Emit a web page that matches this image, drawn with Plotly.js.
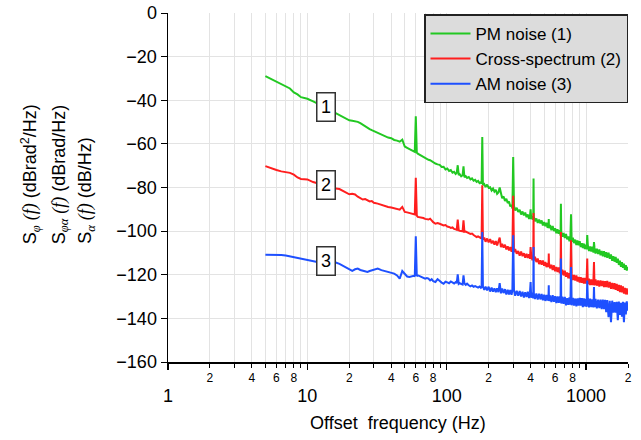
<!DOCTYPE html>
<html>
<head>
<meta charset="utf-8">
<script src="https://cdn.plot.ly/plotly-3.0.1.min.js"></script>
<style>html,body{margin:0;padding:0;background:#fff;}#chart{width:641px;height:440px;}</style>
</head>
<body>
<div id="chart"></div>
<script>
// Offset frequency (Hz)
const freq = [
  5, 5.5, 6, 6.5, 7, 7.5, 8, 8.5, 9, 9.5,
  10, 11, 12, 13, 14, 15, 16, 17, 18, 19,
  20, 21, 22, 23, 24, 25, 26, 27, 28, 29,
  30, 32, 34, 36, 38, 40, 42, 44, 46, 48,
  50, 52, 54, 56, 58, 59, 60, 61, 62, 64,
  66, 68, 70, 72, 74, 76, 78, 80, 83, 86,
  89, 92, 95, 98, 101, 104, 107, 110, 113, 116,
  118, 120, 122, 124, 127, 130, 132, 134, 137, 140,
  144, 148, 152, 156, 160, 164, 168, 172, 176, 178,
  180, 182, 186, 190, 195, 200, 205, 210, 215, 220,
  225, 230, 235, 240, 245, 250, 256, 262, 268, 274,
  280, 286, 292, 296, 300, 304, 310, 318, 326, 334,
  342, 350, 358, 366, 374, 382, 390, 396, 400, 404,
  412, 418, 420, 422, 430, 440, 450, 460, 470, 480,
  490, 500, 510, 520, 530, 538, 540, 542, 552, 564,
  576, 588, 600, 612, 624, 636, 648, 656, 660, 664,
  676, 690, 704, 718, 732, 746, 760, 772, 780, 788,
  804, 820, 836, 852, 868, 884, 900, 916, 932, 948,
  964, 980, 996, 1010, 1020, 1030, 1050, 1070, 1090, 1110,
  1130, 1140, 1150, 1170, 1195, 1220, 1245, 1270, 1295, 1320,
  1345, 1370, 1395, 1420, 1450, 1480, 1510, 1540, 1570, 1600,
  1630, 1660, 1690, 1720, 1750, 1780, 1810, 1840, 1870, 1900,
  1930, 1960, 1990
];

// PM noise (1), dBrad^2/Hz
const pmNoise = [
  -28.9, -30.2, -31.4, -32.6, -33.7, -34.6, -36.4, -37.3, -38.6, -39.0,
  -39.3, -40.5, -41.6, -42.8, -44.0, -45.0, -45.9, -46.5, -47.4, -48.4,
  -49.2, -49.4, -49.5, -49.9, -50.5, -51.3, -52.0, -52.7, -53.2, -53.7,
  -54.1, -55.2, -55.8, -56.3, -57.1, -57.4, -58.2, -58.5, -59.0, -58.1,
  -61.2, -61.8, -62.4, -62.9, -63.4, -63.7, -47.4, -64.0, -64.5, -65.0,
  -65.6, -66.1, -66.8, -67.0, -67.3, -67.5, -68.0, -68.6, -69.0, -69.4,
  -69.6, -70.6, -70.5, -71.7, -71.3, -72.4, -72.0, -73.2, -72.8, -73.8,
  -73.3, -69.8, -74.3, -73.9, -74.9, -74.4, -70.3, -75.3, -74.8, -75.6,
  -75.2, -76.3, -75.8, -76.9, -76.5, -77.4, -77.0, -78.0, -77.6, -78.3,
  -56.9, -78.9, -78.4, -79.8, -78.7, -80.1, -79.9, -81.4, -80.5, -81.9,
  -81.1, -82.9, -82.3, -80.0, -82.7, -84.9, -84.1, -86.2, -85.2, -87.1,
  -86.4, -88.7, -87.9, -89.6, -66.0, -88.5, -90.6, -89.3, -91.2, -90.2,
  -92.4, -91.0, -92.8, -91.5, -93.6, -92.4, -94.4, -92.9, -90.0, -94.5,
  -93.2, -94.8, -75.9, -93.4, -95.5, -94.2, -96.2, -94.7, -96.5, -95.1,
  -97.4, -95.8, -97.7, -96.2, -98.5, -97.2, -94.5, -98.7, -97.2, -99.6,
  -97.7, -100.0, -98.7, -101.0, -99.1, -101.2, -99.6, -102.0, -87.4, -100.3,
  -102.6, -100.9, -103.1, -101.3, -103.8, -102.4, -104.7, -102.8, -92.3, -104.9,
  -103.0, -105.5, -103.9, -106.4, -104.3, -106.5, -104.6, -107.3, -105.5, -107.8,
  -105.7, -108.2, -106.2, -108.3, -101.8, -106.4, -109.1, -107.0, -109.3, -107.1,
  -109.8, -105.0, -107.7, -110.3, -108.1, -110.5, -108.4, -111.1, -109.1, -111.5,
  -109.2, -111.9, -109.7, -112.2, -109.9, -112.7, -110.7, -113.6, -111.5, -114.0,
  -111.8, -114.5, -112.6, -115.5, -113.5, -116.4, -114.2, -116.8, -114.9, -117.7,
  -115.6, -118.1, -116.3
];

// Cross-spectrum (2), dBrad/Hz
const crossSpectrum = [
  -70.2, -71.3, -72.0, -72.6, -73.0, -73.3, -74.1, -75.4, -76.1, -76.2,
  -76.3, -77.5, -78.2, -78.9, -79.5, -80.1, -80.5, -80.7, -81.6, -82.6,
  -83.1, -82.9, -83.2, -84.2, -85.0, -85.5, -85.3, -86.0, -86.4, -86.2,
  -87.0, -87.4, -88.0, -88.3, -88.9, -89.2, -89.5, -89.9, -90.2, -88.9,
  -91.2, -91.4, -91.7, -92.0, -92.2, -92.4, -75.5, -92.9, -93.5, -93.6,
  -93.8, -94.0, -94.4, -94.6, -94.7, -94.3, -95.2, -95.9, -96.6, -96.3,
  -96.6, -97.0, -97.4, -97.2, -97.9, -98.1, -98.5, -98.3, -99.0, -99.2,
  -99.4, -94.7, -99.6, -99.8, -100.0, -100.1, -95.0, -100.3, -100.2, -100.4,
  -100.9, -101.3, -101.1, -101.8, -102.2, -102.7, -102.4, -103.0, -103.2, -103.1,
  -79.0, -104.0, -103.0, -104.9, -103.4, -105.1, -103.7, -105.6, -104.4, -106.2,
  -104.6, -106.6, -105.2, -103.0, -107.3, -105.8, -107.6, -106.2, -108.4, -107.0,
  -108.8, -107.3, -109.4, -107.9, -83.8, -109.7, -108.2, -110.4, -109.1, -111.3,
  -109.4, -111.5, -110.1, -112.2, -110.4, -112.3, -110.6, -112.7, -107.3, -111.2,
  -113.3, -111.6, -91.7, -113.4, -111.8, -114.2, -112.6, -115.1, -113.4, -115.4,
  -113.5, -115.9, -114.2, -116.5, -114.6, -116.5, -110.3, -114.6, -117.1, -115.4,
  -117.8, -115.7, -118.4, -116.4, -118.8, -116.7, -119.3, -117.3, -100.4, -119.9,
  -117.7, -120.3, -118.2, -120.9, -119.0, -121.6, -119.3, -121.8, -104.2, -119.6,
  -122.4, -120.1, -122.6, -120.3, -123.1, -121.0, -123.6, -121.1, -123.7, -121.5,
  -124.0, -121.4, -124.1, -121.9, -112.6, -124.4, -121.8, -124.7, -122.1, -124.7,
  -122.2, -114.2, -124.9, -122.1, -125.0, -122.6, -125.4, -122.6, -125.2, -122.8,
  -125.6, -122.9, -125.7, -122.8, -125.9, -123.3, -126.5, -123.7, -126.6, -123.9,
  -126.9, -124.2, -127.4, -124.7, -127.9, -124.9, -128.1, -125.3, -128.6, -126.0,
  -129.0, -126.3, -129.1
];

// AM noise (3), dB/Hz
const amNoise = [
  -110.8, -110.8, -110.9, -111.0, -111.2, -111.6, -112.0, -112.5, -112.9, -113.2,
  -113.5, -114.0, -114.3, -114.3, -114.3, -114.4, -114.4, -115.0, -115.9, -117.0,
  -117.8, -118.2, -117.5, -117.2, -117.8, -118.1, -118.4, -118.7, -118.3, -118.0,
  -117.6, -117.2, -117.9, -118.4, -118.6, -119.0, -119.5, -120.3, -121.8, -118.3,
  -119.5, -120.8, -121.0, -120.7, -120.5, -120.8, -102.4, -120.6, -120.3, -120.6,
  -121.0, -121.4, -121.8, -121.5, -121.8, -122.6, -122.0, -122.9, -123.3, -122.0,
  -123.0, -123.6, -124.1, -123.2, -123.5, -123.9, -123.1, -123.6, -124.0, -123.4,
  -123.8, -119.8, -124.2, -123.9, -124.3, -124.5, -120.3, -124.0, -124.6, -124.1,
  -124.8, -125.3, -124.9, -125.5, -125.2, -125.6, -125.9, -125.4, -126.0, -125.7,
  -100.4, -125.4, -126.9, -125.4, -127.1, -125.5, -127.7, -125.9, -127.7, -126.2,
  -128.0, -126.2, -128.0, -123.8, -128.5, -126.3, -128.4, -126.6, -129.0, -126.9,
  -129.0, -127.0, -129.2, -127.2, -101.9, -127.1, -129.6, -127.4, -129.6, -127.5,
  -130.0, -127.8, -130.4, -128.0, -130.2, -127.8, -130.7, -128.2, -123.3, -130.5,
  -128.2, -130.8, -107.3, -128.5, -131.1, -128.6, -131.4, -128.7, -131.3, -128.8,
  -131.7, -129.1, -132.0, -129.3, -131.8, -129.1, -124.8, -132.0, -129.5, -132.5,
  -129.4, -132.4, -129.8, -133.0, -129.9, -132.9, -129.9, -132.8, -112.6, -133.2,
  -130.1, -133.3, -130.2, -134.0, -130.7, -133.8, -130.4, -133.7, -116.5, -134.0,
  -130.6, -134.1, -130.9, -134.5, -130.8, -134.2, -130.6, -134.1, -130.7, -134.8,
  -130.8, -134.5, -131.1, -134.7, -122.6, -131.0, -135.0, -131.0, -134.8, -131.3,
  -135.0, -125.6, -134.8, -131.1, -135.4, -131.4, -135.3, -131.4, -135.8, -131.4,
  -135.8, -131.5, -137.2, -131.6, -139.5, -132.0, -141.7, -131.9, -137.4, -132.5,
  -137.4, -132.4, -140.8, -132.3, -138.4, -132.9, -139.2, -132.4, -141.8, -132.7,
  -138.2, -132.2, -136.5
];

const seriesNames = ['PM noise (1)', 'Cross-spectrum (2)', 'AM noise (3)'];

const labeledMinorVals = [2,4,6,8, 20,40,60,80, 200,400,600,800, 2000];
const labeledMinorText = ['2','4','6','8', '2','4','6','8', '2','4','6','8', '2'];
const unlabeledMinorVals = [3,5,7,9, 30,50,70,90, 300,500,700,900];
const majorTickVals = [1, 10, 100, 1000];
const majorTickText = ['1', '10', '100', '1000'];
const yTickVals = [0, -20, -40, -60, -80, -100, -120, -140, -160];

const FONT = 'Liberation Sans, Arial, Helvetica, sans-serif';
const SERIF = 'Liberation Serif, Times New Roman, serif';
const colors = ['#22c822', '#ff1e1e', '#1e50ff'];
const values = [pmNoise, crossSpectrum, amNoise];

const traces = values.map((v, i) => ({
  x: freq, y: v, type: 'scatter', mode: 'lines', name: seriesNames[i],
  line: {color: colors[i], width: 2}
}));
traces.push({x: [], y: [], xaxis: 'x2', yaxis: 'y', type: 'scatter', mode: 'lines', showlegend: false, hoverinfo: 'skip'});

const gridColor = '#e3e3e3';
const xr = [0, Math.log10(2000)];
const it = (s) => '<span style="font-family:' + SERIF + '"><i>' + s + '</i></span>';

const layout = {
  width: 641, height: 440,
  margin: {l: 168, r: 13, t: 13, b: 78, pad: 0},
  paper_bgcolor: '#fff', plot_bgcolor: '#fff',
  font: {family: FONT, color: '#000', size: 18},
  showlegend: true,
  legend: {
    x: 1, y: 0.996, xanchor: 'right', yanchor: 'top',
    bgcolor: '#dcdcdc', bordercolor: '#222', borderwidth: 1.5,
    font: {family: FONT, size: 17, color: '#000'},
    tracegroupgap: 0, itemwidth: 40
  },
  xaxis: {
    type: 'log', range: xr, showline: true, linecolor: '#000', linewidth: 1.5,
    tickmode: 'array', tickvals: labeledMinorVals, ticktext: labeledMinorText,
    ticks: 'outside', ticklen: 4, tickwidth: 1, tickcolor: '#000',
    tickfont: {size: 12, family: FONT},
    showgrid: true, gridcolor: gridColor, gridwidth: 1, zeroline: false,
    minor: {tickmode: 'array', tickvals: unlabeledMinorVals, ticks: 'outside', ticklen: 4,
            tickwidth: 1, tickcolor: '#000', showgrid: true, gridcolor: gridColor, gridwidth: 1}
  },
  xaxis2: {
    type: 'log', range: xr, overlaying: 'x', anchor: 'y', side: 'bottom',
    showline: false,
    tickmode: 'array', tickvals: majorTickVals, ticktext: majorTickText,
    ticks: 'outside', ticklen: 7, tickwidth: 1.5, tickcolor: '#000',
    ticklabelstandoff: 10,
    tickfont: {size: 18, family: FONT},
    showgrid: true, gridcolor: gridColor, gridwidth: 1, zeroline: false
  },
  yaxis: {
    range: [-160, 0], showline: true, linecolor: '#000', linewidth: 1.5,
    tickmode: 'array', tickvals: yTickVals,
    ticks: 'outside', ticklen: 6, tickwidth: 1, tickcolor: '#000',
    tickfont: {size: 18, family: FONT},
    showgrid: true, gridcolor: gridColor, gridwidth: 1, zeroline: false
  },
  annotations: [
    {xref: 'paper', yref: 'paper', x: 0.501, y: 0, yshift: -61, xanchor: 'center', yanchor: 'middle',
     text: 'Offset  frequency (Hz)', showarrow: false, font: {size: 18, family: FONT}},
    {xref: 'paper', yref: 'paper', x: 0, xshift: -138, y: 0.3315, xanchor: 'center', yanchor: 'bottom', textangle: -90,
     text: 'S<sub>' + it('φ') + '</sub> ' + it('(f)') + ' (dBrad<sup>2</sup>/Hz)', showarrow: false, font: {size: 18, family: FONT}},
    {xref: 'paper', yref: 'paper', x: 0, xshift: -108, y: 0.3315, xanchor: 'center', yanchor: 'bottom', textangle: -90,
     text: 'S<sub>' + it('φα') + '</sub> ' + it('(f)') + ' (dBrad/Hz)', showarrow: false, font: {size: 18, family: FONT}},
    {xref: 'paper', yref: 'paper', x: 0, xshift: -81, y: 0.3315, xanchor: 'center', yanchor: 'bottom', textangle: -90,
     text: 'S<sub>' + it('α') + '</sub> ' + it('(f)') + ' (dB/Hz)', showarrow: false, font: {size: 18, family: FONT}},
    {xref: 'x', yref: 'y', x: Math.log10(13.5), y: -43.0, text: '1', showarrow: false,
     bgcolor: '#fff', bordercolor: '#333', borderwidth: 1.5, borderpad: 1, width: 15, height: 25, font: {size: 18, family: FONT}},
    {xref: 'x', yref: 'y', x: Math.log10(13.5), y: -79.0, text: '2', showarrow: false,
     bgcolor: '#fff', bordercolor: '#333', borderwidth: 1.5, borderpad: 1, width: 15, height: 25, font: {size: 18, family: FONT}},
    {xref: 'x', yref: 'y', x: Math.log10(13.5), y: -113.8, text: '3', showarrow: false,
     bgcolor: '#fff', bordercolor: '#333', borderwidth: 1.5, borderpad: 1, width: 15, height: 25, font: {size: 18, family: FONT}}
  ]
};

Plotly.newPlot('chart', traces, layout, {displayModeBar: false, staticPlot: true});
</script>
</body>
</html>
